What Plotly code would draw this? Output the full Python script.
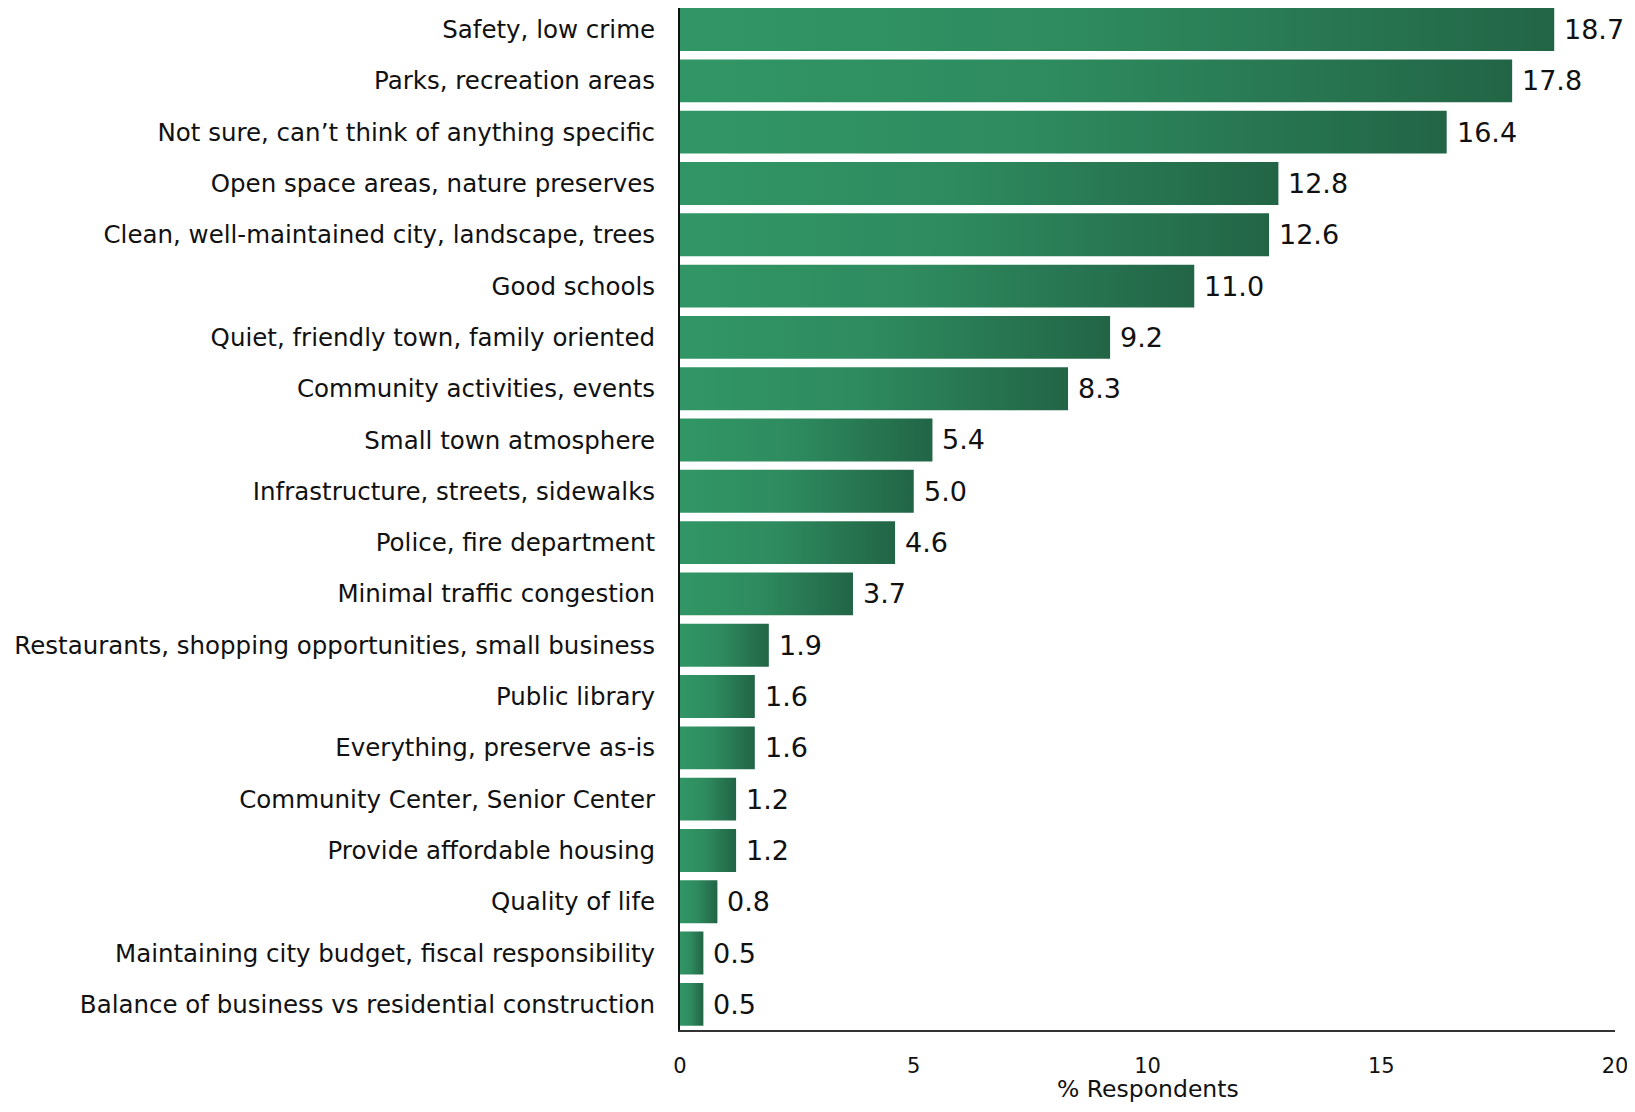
import plotly.graph_objects as go

categories = [
    "Safety, low crime",
    "Parks, recreation areas",
    "Not sure, can\u2019t think of anything specific",
    "Open space areas, nature preserves",
    "Clean, well-maintained city, landscape, trees",
    "Good schools",
    "Quiet, friendly town, family oriented",
    "Community activities, events",
    "Small town atmosphere",
    "Infrastructure, streets, sidewalks",
    "Police, fire department",
    "Minimal traffic congestion",
    "Restaurants, shopping opportunities, small business",
    "Public library",
    "Everything, preserve as-is",
    "Community Center, Senior Center",
    "Provide affordable housing",
    "Quality of life",
    "Maintaining city budget, fiscal responsibility",
    "Balance of business vs residential construction",
]
values = [18.7, 17.8, 16.4, 12.8, 12.6, 11.0, 9.2, 8.3, 5.4, 5.0, 4.6, 3.7,
          1.9, 1.6, 1.6, 1.2, 1.2, 0.8, 0.5, 0.5]
x_ticks = [0, 5, 10, 15, 20]
x_title = "% Respondents"

FONT = "DejaVu Sans"
n = len(categories)
half = 0.418
ypos = [n - 1 - i for i in range(n)]

fig = go.Figure()
for yc, v in zip(ypos, values):
    fig.add_trace(go.Scatter(
        x=[0, v, v, 0, 0],
        y=[yc - half, yc - half, yc + half, yc + half, yc - half],
        mode="lines", fill="toself", line=dict(width=0),
        fillgradient=dict(type="horizontal",
                          colorscale=[[0, "#319665"], [0.45, "#2e8b5f"], [1, "#226546"]]),
        hoverinfo="skip", showlegend=False,
    ))

annotations = [
    dict(x=v, y=yc, xref="x", yref="y", text=f"{v:.1f}", showarrow=False,
         xanchor="left", yanchor="middle", xshift=8,
         font=dict(family=FONT, size=27, color="#111111"))
    for yc, v in zip(ypos, values)
]
annotations.append(dict(
    x=0.5, y=0, xref="paper", yref="paper", text=x_title, showarrow=False,
    xanchor="center", yanchor="top", yshift=-43,
    font=dict(family=FONT, size=23.5, color="#111111"),
))

fig.update_layout(
    width=1619, height=1096,
    margin=dict(l=672, r=12, t=0, b=74),
    plot_bgcolor="white", paper_bgcolor="white",
    annotations=annotations,
    xaxis=dict(range=[0, 20], tickvals=x_ticks, showgrid=False, zeroline=False,
               automargin=False, ticklabeloverflow="allow",
               showline=True, linecolor="#333333", linewidth=2,
               ticks="", ticklabelstandoff=16,
               tickfont=dict(family=FONT, size=21, color="#111111")),
    yaxis=dict(range=[-0.5, n - 0.58], tickvals=ypos,
               ticktext=categories, showgrid=False, zeroline=False,
               automargin=False,
               showline=True, linecolor="#111111", linewidth=2, ticks="",
               ticklabelstandoff=18,
               tickfont=dict(family=FONT, size=24.5, color="#111111")),
)

fig.write_html("out.html")
